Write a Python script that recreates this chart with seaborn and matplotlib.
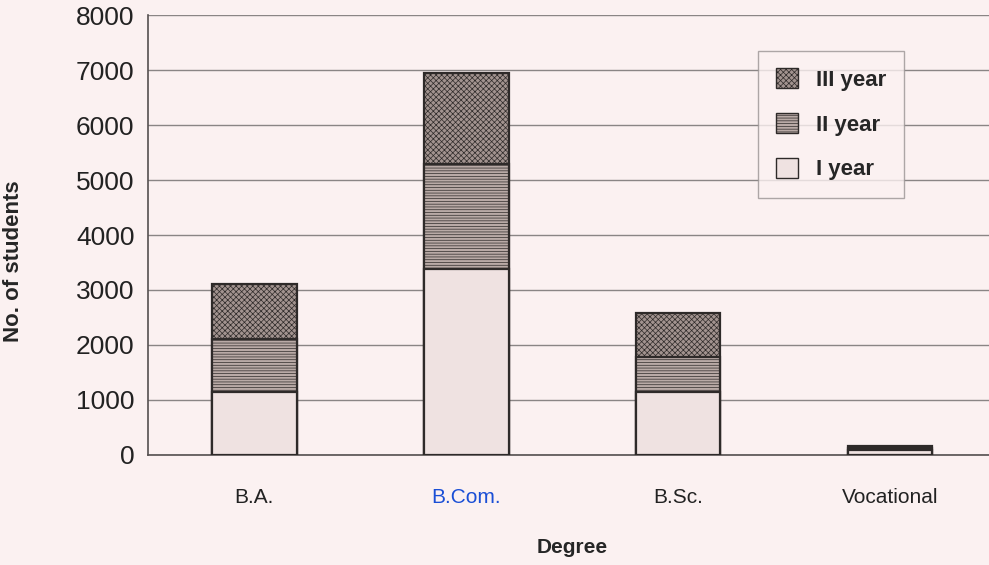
import numpy as np
import pandas as pd
import seaborn as sns
import matplotlib.pyplot as plt
from matplotlib.patches import Patch
from matplotlib.ticker import FixedLocator

# --- datos ---
degrees = ["B.A.", "B.Com.", "B.Sc.", "Vocational"]
year_1 = [1150, 3380, 1150, 80]
year_2 = [960, 1920, 630, 40]
year_3 = [1000, 1640, 800, 40]

bg = "#fbf1f1"
colors = {"I year": "#efe2e1", "II year": "#b9aaa6", "III year": "#a2938f"}
hatches = {"I year": "", "II year": "------", "III year": "xxxxxx"}

sns.set_style("white")
plt.rcParams["font.family"] = ["Liberation Sans", "DejaVu Sans"]
plt.rcParams["hatch.color"] = "#6e6360"
plt.rcParams["hatch.linewidth"] = 0.5

fig = plt.figure(figsize=(9.89, 5.65), dpi=100, facecolor=bg)
ax = fig.add_axes([0.15, 0.195, 0.857, 0.778], facecolor=bg)

# acumulados para apilar (se dibuja primero la barra más alta)
c1 = np.array(year_1)
c2 = c1 + np.array(year_2)
c3 = c2 + np.array(year_3)
layers = [("III year", c3), ("II year", c2), ("I year", c1)]

for name, vals in layers:
    df = pd.DataFrame({"degree": degrees, "students": vals})
    n_before = len(ax.patches)
    sns.barplot(data=df, x="degree", y="students", color=colors[name],
                width=0.4, edgecolor="#2e2a29", linewidth=1.6, ax=ax,
                saturation=1)
    for p in ax.patches[n_before:]:
        p.set_hatch(hatches[name])
        p.set_zorder(3)

ax.set_ylim(0, 8000)
ax.set_xlim(-0.5, 3.5)
ax.set_yticks(np.arange(0, 8001, 1000))
ax.yaxis.grid(True, color="#8a8585", linewidth=1.0)
ax.set_axisbelow(True)
for s in ["top", "right"]:
    ax.spines[s].set_visible(False)
for s in ["left", "bottom"]:
    ax.spines[s].set_color("#555050")
    ax.spines[s].set_linewidth(1.2)

ax.tick_params(axis="y", labelsize=19, length=7, color="#555050",
               direction="out", labelcolor="#222", pad=3)
ax.tick_params(axis="x", which="major", length=0, labelsize=15, pad=24,
               labelcolor="#222")
ax.xaxis.set_minor_locator(FixedLocator([0.5, 1.5, 2.5]))
ax.tick_params(axis="x", which="minor", length=7, color="#555050")
ax.get_xticklabels()[1].set_color("#1a4fd6")

ax.set_xlabel("Degree", fontsize=15, fontweight="bold", labelpad=22)
ax.set_ylabel("No. of students", fontsize=16, fontweight="bold")
ax.yaxis.set_label_coords(-0.147, 0.44)

handles = [Patch(facecolor=colors[n], edgecolor="#2e2a29", hatch=hatches[n],
                 label=n) for n in ["III year", "II year", "I year"]]
leg = ax.legend(handles=handles, loc="upper right",
                bbox_to_anchor=(0.905, 0.945), frameon=True, fancybox=False,
                edgecolor="#9a9494", facecolor=bg, handlelength=1.0,
                handleheight=1.0, labelspacing=1.0, borderpad=0.8,
                prop={"weight": "bold", "size": 16})

fig.savefig("out.png", dpi=100, facecolor=bg)
